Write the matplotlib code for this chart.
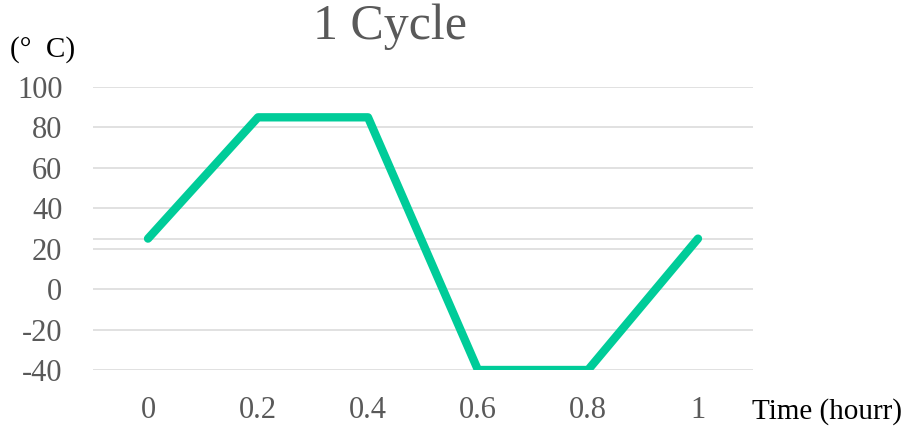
import matplotlib
matplotlib.use("Agg")
import matplotlib.pyplot as plt

# data
time_labels = ["0", "0.2", "0.4", "0.6", "0.8", "1"]
temps = [25, 85, 85, -40, -40, 25]
y_ticks = [-40, -20, 0, 20, 40, 60, 80, 100]
room_temp = 25

plt.rcParams["font.family"] = ["Liberation Serif", "DejaVu Serif"]
plt.rcParams["axes.unicode_minus"] = False

fig = plt.figure(figsize=(9.11, 4.26), dpi=100)
ax = fig.add_axes([93 / 911, 1 - 370 / 426, 660 / 911, 283 / 426])

x = list(range(len(time_labels)))
for yv in y_ticks:
    ax.axhline(yv, color="#D9D9D9", linewidth=1.1, zorder=1)
ax.axhline(room_temp, color="#D9D9D9", linewidth=1.1, zorder=1)

ax.plot(x, temps, color="#00CC99", linewidth=6, solid_joinstyle="round",
        solid_capstyle="round", zorder=3)

ax.set_xlim(-0.5, len(time_labels) - 0.5)
ax.set_ylim(-40, 100)
ax.set_xticks(x)
ax.set_xticklabels(time_labels)
ax.set_yticks(y_ticks)
ax.tick_params(axis="both", length=0, labelsize=22, labelcolor="#595959")
ax.tick_params(axis="y", pad=22)
ax.tick_params(axis="x", pad=19)
for s in ax.spines.values():
    s.set_visible(False)

fig.text(390 / 911, 1 - 27 / 426, "1 Cycle", fontsize=36, color="#595959",
         ha="center", va="center")
fig.text(10 / 911, 1 - 50 / 426, "(°  C)", fontsize=21, color="black",
         ha="left", va="center")
fig.text(752 / 911, 1 - 412 / 426, "Time (hourr)", fontsize=21, color="black",
         ha="left", va="center")

fig.savefig("out.png", dpi=100)
plt.close(fig)
